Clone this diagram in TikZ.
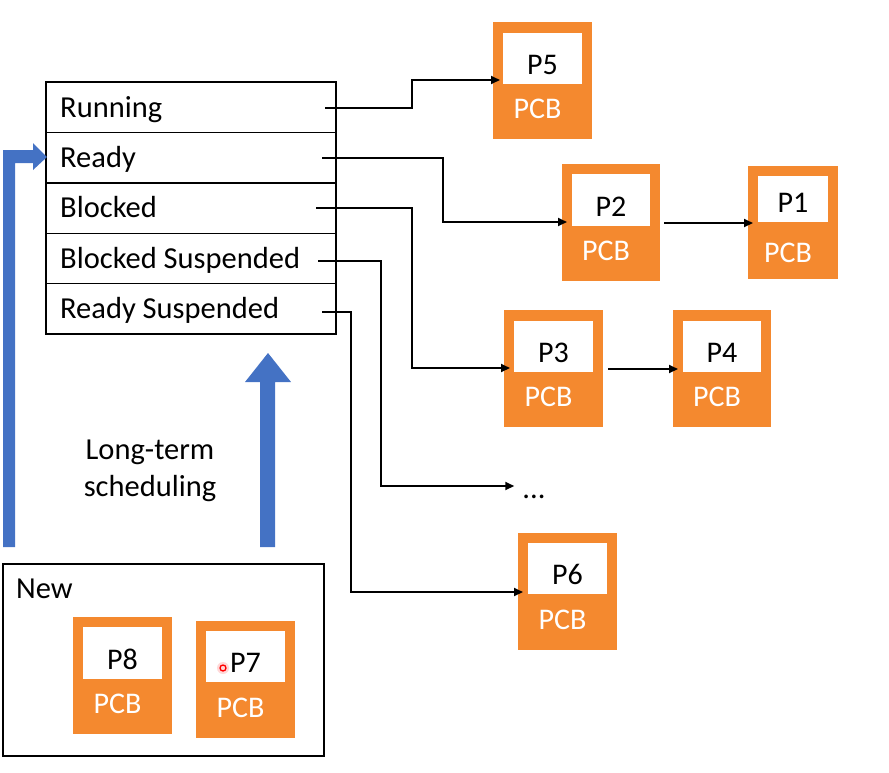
\documentclass[tikz,border=0pt]{standalone}
\usepackage{fontspec}
\setmainfont{Carlito}
\usetikzlibrary{arrows.meta,calc}
\definecolor{pcborange}{HTML}{F4892F}
\definecolor{arrblue}{HTML}{4472C4}
\tikzset{
  rowbox/.style={draw=black, line width=1.4pt, anchor=north west, minimum width=290pt, minimum height=50.4pt, inner sep=0pt, outer sep=0pt},
  rowtext/.style={anchor=base west, inner sep=0pt, font=\fontsize{30.5}{33}\selectfont},
  pcbouter/.style={fill=pcborange, draw=none, anchor=north west, inner sep=0pt, outer sep=0pt},
  pcbinner/.style={fill=white, draw=none, anchor=north west, inner sep=0pt, outer sep=0pt},
  plabel/.style={anchor=base, inner sep=0pt, font=\fontsize{30}{33}\selectfont},
  pcblabel/.style={anchor=base, inner sep=0pt, text=white, font=\fontsize{30}{33}\selectfont},
  conn/.style={draw=black, line width=1.8pt, -{Triangle[length=9pt,width=8pt]}},
  bigarrow/.style={fill=arrblue, draw=none},
  plain/.style={inner sep=0pt, font=\fontsize{30.5}{37}\selectfont}
}
% #1 name, #2 x, #3 y, #4 w, #5 h, #6 label, #7 inner margin y, #8 inner height
\newcommand\pcbbox[8]{%
  \node[pcbouter, minimum width=#4pt, minimum height=#5pt] (#1) at (#2,#3) {};
  \node[pcbinner, minimum width={#4pt-20pt}, minimum height=#8pt] (#1in) at ($(#1.north west)+(10,#7)$) {};
  \node[plabel] (#1lab) at ($(#1in.south)+(0,-10)$) {#6};
  \node[pcblabel] (#1pcb) at ($(#1.north)+(-5,96)$) {PCB};
}
\begin{document}
\begin{tikzpicture}[x=1pt,y=-1pt]
\useasboundingbox (0,0) rectangle (889,772);

% table
\node[rowbox] (running) at (46,82) {};
\node[rowbox] (ready) at (46,132.4) {};
\node[rowbox] (blocked) at (46,182.8) {};
\node[rowbox] (blsusp) at (46,233.2) {};
\node[rowbox] (rdsusp) at (46,283.6) {};
\node[rowtext] (runningt) at ($(running.north west)+(14,35)$) {Running};
\node[rowtext] (readyt) at ($(ready.north west)+(14,35)$) {Ready};
\node[rowtext] (blockedt) at ($(blocked.north west)+(14,35)$) {Blocked};
\node[rowtext] (blsuspt) at ($(blsusp.north west)+(14,35)$) {Blocked Suspended};
\node[rowtext] (rdsuspt) at ($(rdsusp.north west)+(14,35)$) {Ready Suspended};

% PCB boxes
\pcbbox{p5}{493}{22}{99}{117}{P5}{11}{51}
\pcbbox{p2}{562}{164}{98}{117}{P2}{10}{52}
\pcbbox{p1}{748}{166}{90}{113}{P1}{10}{46}
\pcbbox{p3}{504}{310}{99}{117}{P3}{11}{51}
\pcbbox{p4}{673}{310}{98}{117}{P4}{11}{51}
\pcbbox{p6}{518}{533}{99}{117}{P6}{10}{51}

\node[plain, anchor=base] (dots) at (534,498) {...};

% connector start points
\coordinate (s1) at (325,108);
\coordinate (s2) at (322,158);
\coordinate (s3) at (316,208);
\coordinate (s4) at (318,261);
\coordinate (s5) at (322,312);

\draw[conn, shorten >=-7pt] (s1) -- (412,108) -- (412,80) -- (p5.west |- 0,80);
\draw[conn, shorten >=-5pt] (s2) -- (443,158) |- (p2.west |- 0,222);
\draw[conn, shorten >=-6pt] (s3) -- (412,208) |- (p3.west |- 0,368);
\draw[conn, shorten >=8pt] (s4) -- (381,261) |- (dots.west |- 0,486);
\draw[conn, shorten >=-5pt] (s5) -- (351,312) |- (p6.west |- 0,592);
\draw[conn, shorten <=4pt, shorten >=-5pt] (p2.east |- 0,223) -- (p1.west |- 0,223);
\draw[conn, shorten <=5pt, shorten >=-5pt] (p3.east |- 0,369) -- (p4.west |- 0,369);

% New box
\node[draw=black, line width=1.4pt, anchor=north west, minimum width=321pt, minimum height=192pt, inner sep=0pt, outer sep=0pt] (newbox) at (3,564) {};
\node[plain, anchor=base west] (newlab) at (16,598) {New};
\pcbbox{p8}{73}{617}{99}{117}{P8}{10}{52}
\pcbbox{p7}{196}{621}{99}{117}{P7}{10}{51}
\fill[red!25, opacity=0.6] (223,668) circle (6);
\draw[red, line width=1.3pt] (223,668) circle (3);

% blue arrows
\fill[bigarrow] (3,547) -- (3,150) -- (33,150) -- (33,143) -- (47,157) -- (33,170) -- (33,163) -- (15,163) -- (15,547) -- cycle;
\fill[bigarrow] (260,547) -- (260,382) -- (245,382) -- (268,353) -- (291,382) -- (275,382) -- (275,547) -- cycle;

\node[plain, align=center] (lts) at (150,471) {Long-term\\scheduling};
\end{tikzpicture}
\end{document}
